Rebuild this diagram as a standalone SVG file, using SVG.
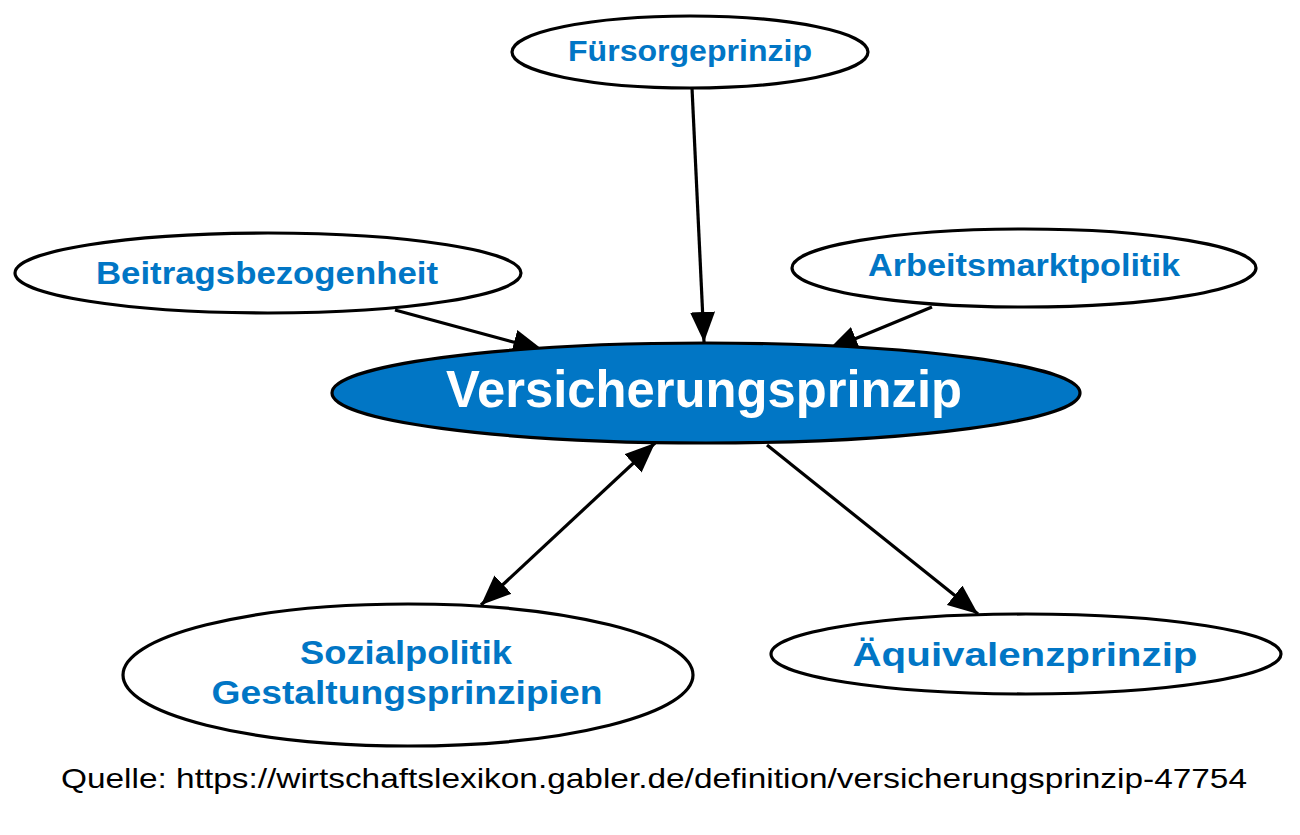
<svg xmlns="http://www.w3.org/2000/svg" width="1300" height="835" viewBox="0 0 1300 835">
<style>
.node{fill:#ffffff;stroke:#000000;stroke-width:3.2}
.main{fill:#0176c5;stroke:#000000;stroke-width:3.2}
.lbl{font-family:"Liberation Sans",Arial,sans-serif;font-weight:bold;fill:#0176c5;text-anchor:middle}
.mlbl{font-family:"Liberation Sans",Arial,sans-serif;font-weight:bold;fill:#ffffff;text-anchor:middle}
.edge{stroke:#000000;stroke-width:3.2;fill:none}
.src{font-family:"Liberation Sans",Arial,sans-serif;fill:#000000}
</style>
<defs>
<marker id="ah" markerUnits="userSpaceOnUse" markerWidth="30" markerHeight="25" refX="30" refY="12.5" orient="auto-start-reverse" viewBox="0 0 30 25">
<path d="M0,0 L30,12.5 L0,25 z" fill="#000"/>
</marker>
</defs>
<rect width="1300" height="835" fill="#ffffff"/>
<g id="connectors">
<line class="edge" x1="692" y1="88" x2="704" y2="342" marker-end="url(#ah)"/>
<line class="edge" x1="395" y1="310" x2="543" y2="350" marker-end="url(#ah)"/>
<line class="edge" x1="932" y1="307" x2="828" y2="350" marker-end="url(#ah)"/>
<line class="edge" x1="655" y1="443" x2="481" y2="605" marker-start="url(#ah)" marker-end="url(#ah)"/>
<line class="edge" x1="767" y1="445" x2="978" y2="614" marker-end="url(#ah)"/>
</g>
<g id="node-fuersorge">
<ellipse class="node" cx="690" cy="52" rx="178" ry="36"/>
<text class="lbl" x="690" y="61" font-size="30" textLength="244" lengthAdjust="spacingAndGlyphs">Fürsorgeprinzip</text>
</g>
<g id="node-beitrag">
<ellipse class="node" cx="268" cy="273" rx="253" ry="40"/>
<text class="lbl" x="267" y="284" font-size="31" textLength="342" lengthAdjust="spacingAndGlyphs">Beitragsbezogenheit</text>
</g>
<g id="node-arbeitsmarkt">
<ellipse class="node" cx="1024" cy="268" rx="232" ry="39"/>
<text class="lbl" x="1024" y="276" font-size="31" textLength="312" lengthAdjust="spacingAndGlyphs">Arbeitsmarktpolitik</text>
</g>
<g id="node-versicherung">
<ellipse class="main" cx="706" cy="393" rx="374" ry="50"/>
<text class="mlbl" x="704" y="407" font-size="52" textLength="516" lengthAdjust="spacingAndGlyphs">Versicherungsprinzip</text>
</g>
<g id="node-sozialpolitik">
<ellipse class="node" cx="408" cy="675" rx="285" ry="71"/>
<text class="lbl" x="406" y="664" font-size="34" textLength="212" lengthAdjust="spacingAndGlyphs">Sozialpolitik</text>
<text class="lbl" x="407" y="704" font-size="34" textLength="391" lengthAdjust="spacingAndGlyphs">Gestaltungsprinzipien</text>
</g>
<g id="node-aequivalenz">
<ellipse class="node" cx="1026" cy="654" rx="255" ry="40"/>
<text class="lbl" x="1025" y="666" font-size="34" textLength="345" lengthAdjust="spacingAndGlyphs">Äquivalenzprinzip</text>
</g>
<text class="src" x="61" y="788" font-size="28" textLength="1186" lengthAdjust="spacingAndGlyphs">Quelle: https://wirtschaftslexikon.gabler.de/definition/versicherungsprinzip-47754</text>
</svg>
